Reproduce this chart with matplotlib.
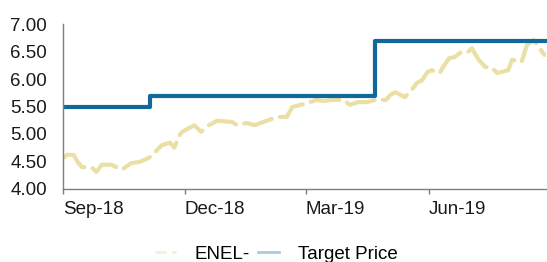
import matplotlib
matplotlib.use("Agg")
import matplotlib.pyplot as plt
import matplotlib.dates as mdates
from matplotlib.lines import Line2D
import numpy as np

plt.rcParams["font.family"] = ["Liberation Sans", "DejaVu Sans"]

# ENEL share price
price_dates = [
    "2018-09-01", "2018-09-04", "2018-09-09", "2018-09-12", "2018-09-15",
    "2018-09-23", "2018-09-26", "2018-09-30", "2018-10-07", "2018-10-15",
    "2018-10-22", "2018-10-28", "2018-11-01", "2018-11-05", "2018-11-14",
    "2018-11-20", "2018-11-23", "2018-11-27", "2018-11-29", "2018-12-08",
    "2018-12-13", "2018-12-19", "2018-12-25", "2019-01-05", "2019-01-09",
    "2019-01-16", "2019-01-22", "2019-02-01", "2019-02-08", "2019-02-15",
    "2019-02-19", "2019-03-02", "2019-03-09", "2019-03-15", "2019-03-21",
    "2019-03-29", "2019-04-03", "2019-04-09", "2019-04-16", "2019-04-22",
    "2019-04-30", "2019-05-03", "2019-05-07", "2019-05-11", "2019-05-14",
    "2019-05-19", "2019-05-23", "2019-05-27", "2019-05-31", "2019-06-03",
    "2019-06-09", "2019-06-11", "2019-06-16", "2019-06-20", "2019-06-25",
    "2019-06-30", "2019-07-03", "2019-07-08", "2019-07-13", "2019-07-18",
    "2019-07-22", "2019-07-30", "2019-08-02", "2019-08-09", "2019-08-13",
    "2019-08-18", "2019-08-22", "2019-08-26",
]
price_values = [
    4.56, 4.62, 4.62, 4.49, 4.40,
    4.38, 4.31, 4.44, 4.44, 4.35,
    4.47, 4.49, 4.53, 4.58, 4.80,
    4.84, 4.75, 4.98, 5.04, 5.16,
    5.04, 5.16, 5.24, 5.22, 5.16,
    5.20, 5.16, 5.25, 5.31, 5.31,
    5.49, 5.56, 5.62, 5.60, 5.62,
    5.62, 5.53, 5.58, 5.58, 5.62,
    5.62, 5.71, 5.76, 5.71, 5.67,
    5.80, 5.93, 5.98, 6.13, 6.16,
    6.11, 6.20, 6.38, 6.40, 6.49,
    6.49, 6.56, 6.35, 6.22, 6.20,
    6.11, 6.16, 6.35, 6.31, 6.62,
    6.71, 6.58, 6.44,
]

# target price steps
target_dates = ["2018-09-01", "2018-11-05", "2019-04-22", "2019-08-28"]
target_values = [5.50, 5.70, 6.70, 6.70]

series_labels = ["ENEL-", "Target Price"]
x_start = "2018-09-01"
x_end = "2019-08-28"

price_color = "#EAE0A6"
target_color = "#11699B"


def main():
    fig = plt.figure(figsize=(5.47, 2.62), dpi=100)
    ax = fig.add_axes([0.115, 0.279, 0.885, 0.629])

    pd_ = np.array(price_dates, dtype="datetime64[D]")
    td_ = np.array(target_dates, dtype="datetime64[D]")

    ax.plot(pd_, price_values, color=price_color, lw=3.0,
            dashes=(7, 2), dash_capstyle="round", solid_capstyle="round")
    ax.plot(td_, target_values, color=target_color, lw=3.0,
            drawstyle="steps-post", solid_joinstyle="round")

    ax.set_xlim(np.datetime64(x_start), np.datetime64(x_end))
    ax.set_ylim(4.0, 7.0)
    ax.set_yticks(np.arange(4.0, 7.01, 0.5))
    ax.yaxis.set_major_formatter(plt.FormatStrFormatter("%.2f"))

    ax.xaxis.set_major_locator(mdates.MonthLocator(bymonth=[3, 6, 9, 12]))
    ax.xaxis.set_major_formatter(mdates.DateFormatter("%b-%y"))

    for s in ["top", "right"]:
        ax.spines[s].set_visible(False)
    for s in ["left", "bottom"]:
        ax.spines[s].set_color("#7f7f7f")
        ax.spines[s].set_linewidth(1.0)

    ax.tick_params(axis="y", length=0, pad=11.5, labelsize=13.5, labelcolor="#1a1a1a")
    ax.tick_params(axis="x", length=3.6, width=1, color="#7f7f7f", pad=5,
                   labelsize=13.5, labelcolor="#1a1a1a")
    for lbl in ax.get_xticklabels():
        lbl.set_horizontalalignment("left")

    handles = [
        Line2D([], [], color="#F4EFD6", lw=2.0, dashes=(4, 2)),
        Line2D([], [], color="#A9CDDF", lw=2.0),
    ]
    fig.legend(handles, series_labels, loc="center", bbox_to_anchor=(0.505, 0.03),
               ncol=2, frameon=False, fontsize=13.5, handlelength=1.1,
               handletextpad=1.0, columnspacing=0.45)

    fig.savefig("out.png", dpi=100)


if __name__ == "__main__":
    main()
